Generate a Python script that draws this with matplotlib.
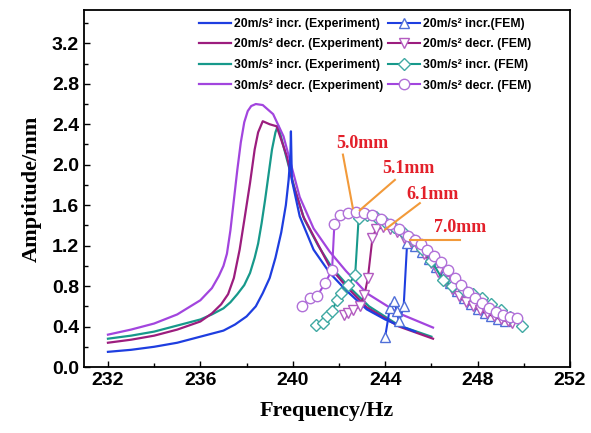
import matplotlib
matplotlib.use('Agg')
import matplotlib.pyplot as plt
from matplotlib.ticker import MultipleLocator, FormatStrFormatter

plt.rcParams['font.family'] = 'Liberation Sans'
plt.rcParams['font.weight'] = 'bold'

# experiment curves (frequency / amplitude)
f_20_incr = [232, 233, 234, 235, 236, 237, 237.5, 238, 238.4, 238.7, 239.0, 239.25, 239.5, 239.7,
             239.82, 239.9, 239.92, 239.96, 240.3, 240.9, 241.6, 242.3, 243.2, 244.0, 244.6, 245.3]
a_20_incr = [0.15, 0.17, 0.20, 0.24, 0.30, 0.36, 0.42, 0.50, 0.60, 0.73, 0.88, 1.08, 1.33, 1.60,
             1.85, 2.10, 2.33, 1.85, 1.49, 1.16, 0.93, 0.76, 0.57, 0.47, 0.41, 0.35]

f_20_decr = [232, 233, 234, 235, 236, 236.5, 236.9, 237.2, 237.45, 237.7, 237.9, 238.15, 238.35,
             238.5, 238.7, 239.0, 239.3, 239.75, 240.0, 240.45, 241.05, 241.6, 242.3, 243.2,
             244.6, 246.07]
a_20_decr = [0.24, 0.27, 0.31, 0.37, 0.45, 0.53, 0.62, 0.72, 0.88, 1.16, 1.45, 1.82, 2.15,
             2.32, 2.43, 2.40, 2.38, 2.08, 1.82, 1.49, 1.23, 0.99, 0.80, 0.59,
             0.40, 0.28]

f_30_incr = [232, 233, 234, 235, 236, 236.5, 237, 237.3, 237.6, 237.9, 238.15, 238.35, 238.5,
             238.65, 238.8, 238.95, 239.1, 239.25, 239.36, 239.75, 240.1, 240.5, 241.1, 241.7,
             242.4, 243.3, 244.6, 246.0]
a_30_incr = [0.28, 0.31, 0.35, 0.41, 0.47, 0.52, 0.58, 0.64, 0.72, 0.81, 0.93, 1.08, 1.22,
             1.42, 1.65, 1.90, 2.15, 2.32, 2.39, 2.05, 1.75, 1.46, 1.20, 0.98,
             0.80, 0.60, 0.41, 0.30]

f_30_decr = [232, 233, 234, 235, 236, 236.5, 236.8, 237.0, 237.15, 237.3, 237.45, 237.6, 237.75,
             237.9, 238.05, 238.2, 238.4, 238.7, 239.15, 239.6, 239.95, 240.3, 240.9, 241.6,
             242.3, 243.2, 244.6, 246.07]
a_30_decr = [0.32, 0.37, 0.43, 0.52, 0.66, 0.78, 0.90, 1.00, 1.12, 1.35, 1.65, 1.95, 2.22,
             2.42, 2.53, 2.58, 2.60, 2.59, 2.50, 2.28, 1.98, 1.68, 1.37, 1.14,
             0.95, 0.73, 0.53, 0.39]

# FEM results
fem_f_20_incr = [244.0, 244.2, 244.4, 244.5, 244.6, 244.8, 244.95, 245.3, 245.6, 245.9, 246.2,
                 246.5, 246.8, 247.1, 247.4, 247.7, 248.0, 248.3, 248.6, 248.9, 249.2]
fem_a_20_incr = [0.30, 0.58, 0.65, 0.55, 0.45, 0.60, 1.23, 1.20, 1.14, 1.07, 0.99,
                 0.91, 0.83, 0.75, 0.68, 0.62, 0.57, 0.53, 0.50, 0.47, 0.45]

fem_f_20_decr = [242.2, 242.4, 242.6, 242.9, 243.1, 243.25, 243.45, 243.6, 243.9, 244.2, 244.5,
                 244.8, 245.1, 245.4, 245.7, 246.0, 246.3, 246.6, 246.9, 247.2, 247.5, 247.8,
                 248.1, 248.4, 248.7, 249.0, 249.3, 249.5]
fem_a_20_decr = [0.51, 0.53, 0.56, 0.60, 0.71, 0.88, 1.28, 1.36, 1.38, 1.36, 1.33,
                 1.28, 1.24, 1.19, 1.12, 1.03, 0.94, 0.85, 0.77, 0.70, 0.64, 0.60,
                 0.56, 0.53, 0.50, 0.47, 0.45, 0.44]

fem_f_30_incr = [241.0, 241.3, 241.5, 241.7, 241.9, 242.1, 242.4, 242.7, 242.85, 243.2, 243.6,
                 244.0, 244.4, 244.8, 245.2, 245.6, 246.0, 246.5, 246.9, 247.4, 247.8, 248.2,
                 248.6, 249.0, 249.4, 249.9]
fem_a_30_incr = [0.42, 0.44, 0.50, 0.55, 0.66, 0.73, 0.81, 0.91, 1.47, 1.50, 1.48,
                 1.43, 1.38, 1.32, 1.26, 1.17, 1.05, 0.86, 0.80, 0.76, 0.72, 0.68,
                 0.62, 0.56, 0.49, 0.41]

fem_f_30_decr = [240.4, 240.75, 241.05, 241.4, 241.7, 241.8, 242.05, 242.4, 242.75, 243.1, 243.45,
                 243.8, 244.2, 244.6, 245.0, 245.3, 245.55, 245.8, 246.1, 246.4, 246.7, 247.0,
                 247.3, 247.6, 247.9, 248.2, 248.5, 248.8, 249.1, 249.4, 249.7]
fem_a_30_decr = [0.60, 0.68, 0.70, 0.83, 0.96, 1.41, 1.50, 1.52, 1.53, 1.52, 1.50,
                 1.46, 1.41, 1.36, 1.30, 1.26, 1.22, 1.16, 1.10, 1.04, 0.96, 0.88,
                 0.81, 0.74, 0.68, 0.63, 0.58, 0.54, 0.51, 0.49, 0.48]

labels_exp = ['20m/s² incr. (Experiment)', '20m/s² decr. (Experiment)',
              '30m/s² incr. (Experiment)', '30m/s² decr. (Experiment)']
labels_fem = ['20m/s² incr.(FEM)', '20m/s² decr. (FEM)',
              '30m/s² incr. (FEM)', '30m/s² decr. (FEM)']

c_blue = '#1e3ee0'
c_mag = '#9c1d7e'
c_teal = '#17998b'
c_purp = '#a245de'

fig = plt.figure(figsize=(5.91, 4.33), dpi=100)
ax = fig.add_axes([0.142, 0.1524, 0.8225, 0.8246])

lw = 1.6
h1, = ax.plot(f_20_incr, a_20_incr, color=c_blue, lw=lw, zorder=4)
h3, = ax.plot(f_30_incr, a_30_incr, color=c_teal, lw=lw, zorder=2)
h2, = ax.plot(f_20_decr, a_20_decr, color=c_mag, lw=lw, zorder=3)
h4, = ax.plot(f_30_decr, a_30_decr, color=c_purp, lw=lw, zorder=3)

ms = 7.5
g1, = ax.plot(fem_f_20_incr, fem_a_20_incr, color=c_blue, lw=1.5, marker='^', ms=ms,
              mfc='white', mec='#4f6fd8', mew=1, zorder=5)
g2, = ax.plot(fem_f_20_decr, fem_a_20_decr, color=c_mag, lw=1.5, marker='v', ms=ms,
              mfc='white', mec='#b35bc0', mew=1, zorder=5)
g3, = ax.plot(fem_f_30_incr, fem_a_30_incr, color=c_teal, lw=1.5, marker='D', ms=ms - 1.5,
              mfc='white', mec='#3fa9a3', mew=1, zorder=5)
g4, = ax.plot(fem_f_30_decr, fem_a_30_decr, color=c_purp, lw=1.5, marker='o', ms=ms,
              mfc='white', mec='#b070d8', mew=1, zorder=6)

# annotations
orange = '#f29a3a'
red = '#e3202a'
notes = [('5.0mm', (243.0, 2.21), (242.17, 2.10), (242.6, 1.57)),
         ('5.1mm', (245.0, 1.96), (244.42, 1.85), (242.9, 1.55)),
         ('6.1mm', (246.07, 1.71), (245.5, 1.62), (244.0, 1.36)),
         ('7.0mm', (247.24, 1.38), (247.24, 1.26), (245.07, 1.26))]
for txt, tp, p0, p1 in notes:
    ax.plot([p0[0], p1[0]], [p0[1], p1[1]], color=orange, lw=1.5, zorder=7)
    ax.text(tp[0], tp[1], txt, color=red, fontsize=13, fontweight='bold',
            family='Liberation Serif', ha='center', va='center', zorder=8)

ax.set_xlim(230.96, 252)
ax.set_ylim(0, 3.53)
ax.xaxis.set_major_locator(MultipleLocator(4))
ax.xaxis.set_minor_locator(MultipleLocator(2))
ax.yaxis.set_major_locator(MultipleLocator(0.4))
ax.yaxis.set_minor_locator(MultipleLocator(0.2))
ax.yaxis.set_major_formatter(FormatStrFormatter('%.1f'))
ax.tick_params(which='both', direction='in', labelsize=14, width=1)
ax.tick_params(which='major', length=4.5)
ax.tick_params(which='minor', length=3)
for lab in ax.get_xticklabels() + ax.get_yticklabels():
    lab.set_fontweight('bold')
for s in ax.spines.values():
    s.set_linewidth(1.3)

ax.set_xlabel('Frequency/Hz', family='Liberation Serif', fontsize=16, fontweight='bold', labelpad=9)
ax.set_ylabel('Amptitude/mm', family='Liberation Serif', fontsize=16, fontweight='bold', labelpad=7)

ax.legend([h1, h2, h3, h4, g1, g2, g3, g4], labels_exp + labels_fem, ncol=2,
          loc='upper left', bbox_to_anchor=(0.225, 0.995), frameon=False,
          prop={'weight': 'bold', 'size': 8.8}, handlelength=2.6, handletextpad=0.25,
          columnspacing=0.4, labelspacing=0.7, borderaxespad=0.2, borderpad=0.3)

fig.savefig('out.png', dpi=100)
